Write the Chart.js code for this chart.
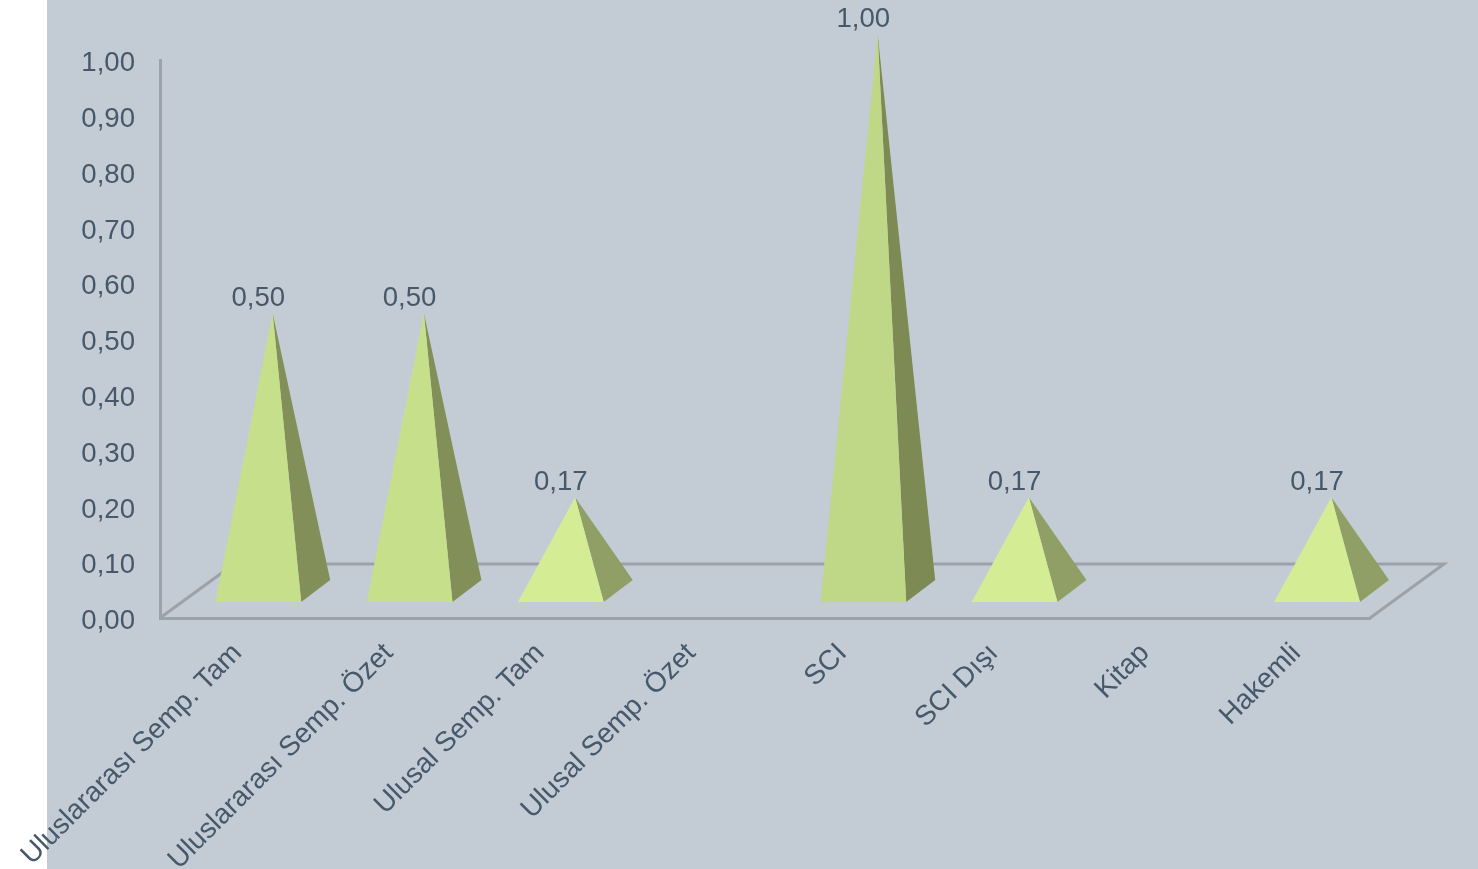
<!DOCTYPE html>
<html>
<head>
<meta charset="utf-8">
<style>
  html, body { margin: 0; padding: 0; background: #fff; overflow: hidden; }
  #panel { position: absolute; left: 47px; top: 0; width: 1431px; height: 869px; background: #c3ccd5; }
  #pyramids { position: absolute; left: 0; top: 0; }
</style>
<script src="https://cdn.jsdelivr.net/npm/chart.js@4"></script>
</head>
<body>
<div id="panel"></div>
<canvas id="pyramids" width="1478" height="869"></canvas>
<script>
var categories = ['Uluslararası Semp. Tam', 'Uluslararası Semp. Özet', 'Ulusal Semp. Tam', 'Ulusal Semp. Özet', 'SCI', 'SCI Dışı', 'Kitap', 'Hakemli'];
var puan = [0.50, 0.50, 0.17, null, 1.00, 0.17, null, 0.17];
var yTicks = [0, 0.1, 0.2, 0.3, 0.4, 0.5, 0.6, 0.7, 0.8, 0.9, 1];

var textColor = '#46586a';
var axisColor = '#9da1a8';

function comma(v) {
  return v.toFixed(2).replace('.', ',');
}

// front face gets lighter as the pyramid gets shorter
function faceColor(v) {
  if (v >= 1) return '#bfd888';
  if (v >= 0.5) return '#c5df8b';
  return '#d4ed95';
}
function sideColor(v) {
  if (v >= 1) return '#7d8a54';
  if (v >= 0.5) return '#828f59';
  return '#8f9f66';
}

var pyramidPlugin = {
  id: 'pyramid',
  beforeDatasetsDraw: function (chart) {
    // floor of the 3d box
    var a = chart.chartArea, c = chart.ctx;
    c.save();
    c.strokeStyle = axisColor;
    c.lineWidth = 3;
    c.beginPath();
    c.moveTo(a.left, a.bottom);
    c.lineTo(a.left + 74, a.bottom - 54);
    c.lineTo(a.right + 74, a.bottom - 54);
    c.lineTo(a.right, a.bottom);
    c.stroke();
    c.restore();
  },
  beforeDatasetDraw: function (chart, args) {
    var c = chart.ctx;
    var data = chart.data.datasets[args.index].data;
    args.meta.data.forEach(function (bar, i) {
      var v = data[i];
      if (v === null) return;
      var half = bar.width / 2;
      var mid = bar.x + 22.7;
      var frontY = bar.base - 16;
      var topX = bar.x + 37;
      var topY = bar.y - 26;
      c.fillStyle = sideColor(v);
      c.beginPath();
      c.moveTo(mid + half, frontY);
      c.lineTo(mid + half + 29, frontY - 22);
      c.lineTo(topX, topY);
      c.closePath();
      c.fill();
      c.fillStyle = faceColor(v);
      c.beginPath();
      c.moveTo(mid - half, frontY);
      c.lineTo(mid + half, frontY);
      c.lineTo(topX, topY);
      c.closePath();
      c.fill();
      c.fillStyle = textColor;
      c.font = '27.6px "Liberation Sans"';
      c.textAlign = 'center';
      c.textBaseline = 'middle';
      c.fillText(comma(v), mid, bar.y - 41);
    });
    return false;
  }
};

new Chart(document.getElementById('pyramids'), {
  type: 'bar',
  data: {
    labels: categories,
    datasets: [{
      label: 'Puan',
      data: puan,
      backgroundColor: '#c5df8b',
      categoryPercentage: 1,
      barPercentage: 0.567
    }]
  },
  plugins: [pyramidPlugin],
  options: {
    responsive: false,
    animation: false,
    layout: { padding: { top: 60, right: 108, left: 0, bottom: 0 } },
    plugins: { legend: { display: false }, tooltip: { enabled: false } },
    scales: {
      x: {
        afterFit: function (s) { s.height = 251; s.paddingLeft = 0; s.paddingRight = 0; },
        grid: { display: false },
        border: { color: axisColor, width: 3 },
        ticks: {
          color: textColor,
          font: { family: '"Liberation Sans"', size: 28 },
          minRotation: 45,
          maxRotation: 45,
          autoSkip: false,
          padding: 11,
          labelOffset: 2
        }
      },
      y: {
        min: 0,
        max: 1,
        afterFit: function (s) { s.width = 160; },
        afterBuildTicks: function (s) { s.ticks = yTicks.map(function (v) { return { value: v }; }); },
        grid: { display: false },
        border: { color: axisColor, width: 3 },
        ticks: {
          color: textColor,
          font: { family: '"Liberation Sans"', size: 27.6 },
          padding: 17,
          labelOffset: 3.5,
          callback: function (v) { return comma(v); }
        }
      }
    }
  }
});
</script>
</body>
</html>
